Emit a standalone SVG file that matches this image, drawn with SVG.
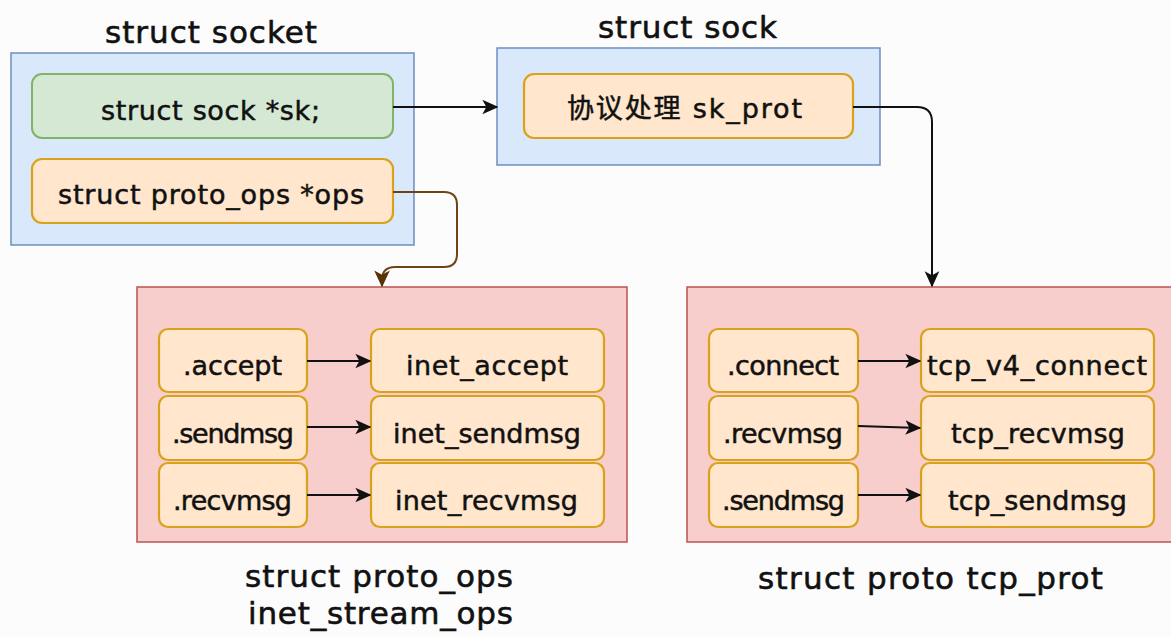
<svg xmlns="http://www.w3.org/2000/svg" width="1171" height="637" viewBox="0 0 1171 637">
  <style>
    .title { font-family: "DejaVu Sans", "Noto Sans CJK SC", sans-serif; font-size: 31px; fill: #111; stroke: #111; stroke-width: 0.6; text-anchor: middle; }
    .lbl { font-family: "DejaVu Sans", "Noto Sans CJK SC", sans-serif; font-size: 27px; fill: #111; stroke: #111; stroke-width: 0.5; text-anchor: middle; }
    .blue { fill: #dae8fc; stroke: #6c8ebf; stroke-width: 1.5; }
    .pink { fill: #f8cecc; stroke: #b85450; stroke-width: 1.5; }
    .green { fill: #d5e8d4; stroke: #82b366; stroke-width: 2; }
    .orange { fill: #ffe6cc; stroke: #d9a21b; stroke-width: 2.2; }
    .edge { fill: none; stroke: #111; stroke-width: 2; }
    .edge-brown { fill: none; stroke: #6e4417; stroke-width: 2; }
  </style>
  <defs>
    <marker id="arrow" viewBox="0 0 12 12" refX="11" refY="6" markerWidth="16" markerHeight="16" markerUnits="userSpaceOnUse" orient="auto">
      <path d="M0,0.5 L12,6 L0,11.5 L3,6 Z" fill="#111"/>
    </marker>
    <marker id="arrow-brown" viewBox="0 0 12 12" refX="11" refY="6" markerWidth="17" markerHeight="17" markerUnits="userSpaceOnUse" orient="auto">
      <path d="M0,0.5 L12,6 L0,11.5 L3,6 Z" fill="#5a3208"/>
    </marker>
  </defs>

  <rect width="1171" height="637" fill="#fcfcfc"/>

  <!-- struct socket -->
  <g id="socket">
    <text class="title" x="211" y="43" textLength="212">struct socket</text>
    <rect class="blue" x="11" y="53" width="403" height="192"/>
    <g id="socket-sk">
      <rect class="green" x="32" y="74" width="361" height="64" rx="10"/>
      <text class="lbl" x="210.5" y="120" textLength="219">struct sock *sk;</text>
    </g>
    <g id="socket-ops">
      <rect class="orange" x="32" y="159" width="361" height="64" rx="10"/>
      <text class="lbl" x="211" y="204" textLength="306">struct proto_ops *ops</text>
    </g>
  </g>

  <!-- struct sock -->
  <g id="sock">
    <text class="title" x="687.5" y="38" textLength="179">struct sock</text>
    <rect class="blue" x="497" y="48" width="383" height="117"/>
    <g id="sock-prot">
      <rect class="orange" x="524" y="74" width="329" height="64" rx="10"/>
      <text class="lbl" x="684.5" y="118" textLength="235">协议处理 sk_prot</text>
    </g>
  </g>

  <!-- struct proto_ops inet_stream_ops -->
  <g id="inet-stream-ops">
    <rect class="pink" x="137" y="287" width="490" height="255"/>
    <g id="ops-accept">
      <rect class="orange" x="159" y="329" width="148" height="63" rx="9"/>
      <text class="lbl" x="232.5" y="375" textLength="99">.accept</text>
    </g>
    <g id="ops-sendmsg">
      <rect class="orange" x="159" y="396" width="148" height="64" rx="9"/>
      <text class="lbl" x="233" y="443" textLength="122">.sendmsg</text>
    </g>
    <g id="ops-recvmsg">
      <rect class="orange" x="159" y="463" width="148" height="64" rx="9"/>
      <text class="lbl" x="232.5" y="510" textLength="119">.recvmsg</text>
    </g>
    <g id="inet-accept">
      <rect class="orange" x="371" y="329" width="233" height="63" rx="9"/>
      <text class="lbl" x="487" y="375" textLength="162">inet_accept</text>
    </g>
    <g id="inet-sendmsg">
      <rect class="orange" x="371" y="396" width="233" height="64" rx="9"/>
      <text class="lbl" x="487" y="443" textLength="188">inet_sendmsg</text>
    </g>
    <g id="inet-recvmsg">
      <rect class="orange" x="371" y="463" width="233" height="64" rx="9"/>
      <text class="lbl" x="486.5" y="510" textLength="183">inet_recvmsg</text>
    </g>
    <text class="title" x="379" y="587" textLength="268">struct proto_ops</text>
    <text class="title" x="380.5" y="624" textLength="265">inet_stream_ops</text>
  </g>

  <!-- struct proto tcp_prot -->
  <g id="tcp-prot">
    <rect class="pink" x="687" y="287" width="500" height="255"/>
    <g id="prot-connect">
      <rect class="orange" x="709" y="329" width="149" height="63" rx="9"/>
      <text class="lbl" x="783" y="375" textLength="112">.connect</text>
    </g>
    <g id="prot-recvmsg">
      <rect class="orange" x="709" y="396" width="149" height="64" rx="9"/>
      <text class="lbl" x="783" y="443" textLength="120">.recvmsg</text>
    </g>
    <g id="prot-sendmsg">
      <rect class="orange" x="709" y="463" width="149" height="64" rx="9"/>
      <text class="lbl" x="783.5" y="510" textLength="123">.sendmsg</text>
    </g>
    <g id="tcp-v4-connect">
      <rect class="orange" x="921" y="329" width="233" height="63" rx="9"/>
      <text class="lbl" x="1037" y="375" textLength="220">tcp_v4_connect</text>
    </g>
    <g id="tcp-recvmsg">
      <rect class="orange" x="921" y="396" width="233" height="64" rx="9"/>
      <text class="lbl" x="1038" y="443" textLength="174">tcp_recvmsg</text>
    </g>
    <g id="tcp-sendmsg">
      <rect class="orange" x="921" y="463" width="233" height="64" rx="9"/>
      <text class="lbl" x="1037.5" y="510" textLength="179">tcp_sendmsg</text>
    </g>
    <text class="title" x="930.5" y="589" textLength="345">struct proto tcp_prot</text>
  </g>

  <!-- connectors -->
  <g id="connectors">
    <path class="edge" d="M393,107 L497,107" marker-end="url(#arrow)"/>
    <path class="edge" d="M853,107 L917,107 Q932,107 932,122 L932,286" marker-end="url(#arrow)"/>
    <path class="edge-brown" d="M393,192 L444,192 Q457,192 457,205 L457,254 Q457,267 444,267 L395,267 Q382,267 382,280 L382,286" marker-end="url(#arrow-brown)"/>
    <path class="edge" d="M307,361 L370,361" marker-end="url(#arrow)"/>
    <path class="edge" d="M307,427 L370,427" marker-end="url(#arrow)"/>
    <path class="edge" d="M307,495 L370,495" marker-end="url(#arrow)"/>
    <path class="edge" d="M858,361 L920,361" marker-end="url(#arrow)"/>
    <path class="edge" d="M858,426 L920,428" marker-end="url(#arrow)"/>
    <path class="edge" d="M858,495 L920,495" marker-end="url(#arrow)"/>
  </g>
</svg>
